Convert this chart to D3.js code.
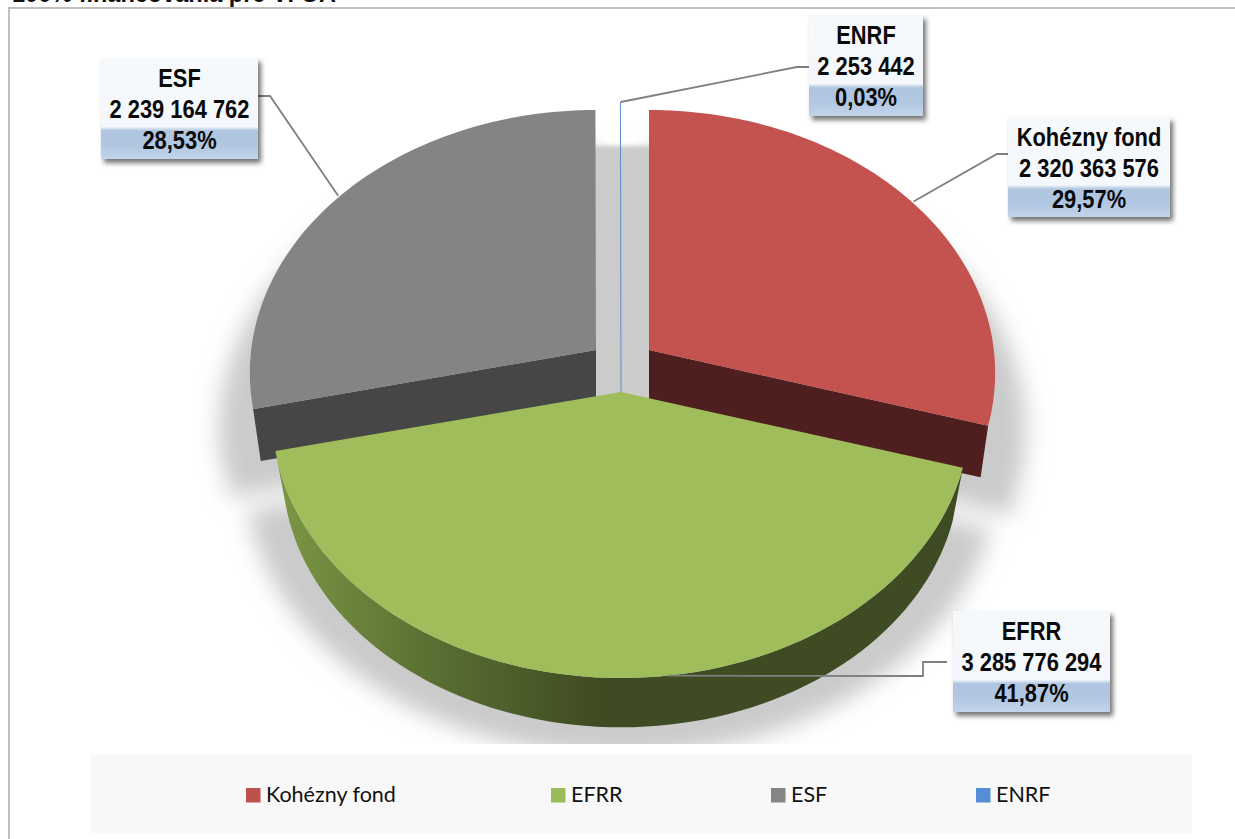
<!DOCTYPE html>
<html><head><meta charset="utf-8">
<script src="https://cdn.jsdelivr.net/npm/d3@7/dist/d3.min.js"></script>
<style>html,body{margin:0;padding:0;background:#fff}svg{display:block}</style>
</head><body><svg id="c" width="1235" height="839"></svg>
<script>
const titleText = "100% financovania pre VI OA";
const categories = ["Kohézny fond", "EFRR", "ESF", "ENRF"];
const values = [2320363576, 3285776294, 2239164762, 2253442];
const valueLabels = ["2 320 363 576", "3 285 776 294", "2 239 164 762", "2 253 442"];
const percentLabels = ["29,57%", "41,87%", "28,53%", "0,03%"];
const topColors = ["#c4524f", "#9fbd5a", "#848484", "#5b8fd0"];
const wallColors = ["#4f1e1e", "#3f4b22", "#464646", "#5b8fd0"];
const legendColors = ["#c0504d", "#9bbb59", "#858585", "#558ed5"];

const W = 1235, H = 839;
const svg = d3.select("#c");
const defs = svg.append("defs");

// perspective projection of the pie's unit circle
const A = 347.6, B = 261, K = -0.0875;
const project = (t, o, s = 1, sy = s, dy = 0) => {
  const u = Math.sin(t), v = -Math.cos(t), den = 1 + K * v;
  return [o[0] + s * A * u / den, o[1] + dy + sy * B * v / den];
};
const apex = [[649, 350], [621, 392], [596, 350], [621, 342]];
const widthScale = [0.992, 1, 0.992, 1];
const arcs = d3.pie().sort(null).value(d => d).startAngle(0).endAngle(2 * Math.PI)(values);
const line = d3.line();
const arcPts = (a, o, s, sy, dy) =>
  d3.range(0, 81).map(i => project(a.startAngle + (a.endAngle - a.startAngle) * i / 80, o, s, sy, dy));
const sector = (a, o, s = 1, sy = s, dy = 0) =>
  line([[o[0], o[1] + dy], ...arcPts(a, o, s, sy, dy)]) + "Z";

// frame and title
svg.append("text").attr("x", 12).attr("y", 2).attr("font-family", "Liberation Sans")
  .attr("font-weight", "bold").attr("font-size", 23.5).attr("fill", "#111").text(titleText);
svg.append("path").attr("d", `M9 ${H}V8H${W}`).attr("fill", "none").attr("stroke", "#bfbfbf").attr("stroke-width", 2);

// shadow
const mkBlur = (id, sd) => defs.append("filter").attr("id", id).attr("x", "-20%").attr("y", "-20%")
  .attr("width", "140%").attr("height", "140%").append("feGaussianBlur").attr("stdDeviation", sd);
mkBlur("blur", 11);
mkBlur("blurGap", 2);
defs.append("clipPath").attr("id", "shClip").append("rect").attr("x", 0).attr("y", 0).attr("width", W).attr("height", 744);
const shadowClip = svg.append("g").attr("clip-path", "url(#shClip)");
const shadow = shadowClip.append("g").attr("filter", "url(#blur)").attr("fill", "#cbcbcb");
arcs.slice(0, 3).forEach((a, i) => shadow.append("path").attr("d", sector(a, apex[i], 1.08, 1.08, 55)));
[0, 2].forEach(i => shadow.append("path").attr("d", sector(arcs[i], apex[i], 1.06, 1.06, 85)));
const redTop = project(0, apex[0], 1.08, 1.08, 55), esfTop = project(2 * Math.PI, apex[2], 1.08, 1.08, 55);
shadowClip.append("rect").attr("filter", "url(#blurGap)").attr("fill", "#cbcbcb")
  .attr("x", esfTop[0] - 6).attr("y", esfTop[1]).attr("width", redTop[0] - esfTop[0] + 12).attr("height", 320);

// 3D pie
const wallGrad = defs.append("linearGradient").attr("id", "wallG").attr("gradientUnits", "userSpaceOnUse")
  .attr("x1", 285).attr("x2", 600).attr("y1", 0).attr("y2", 0);
wallGrad.append("stop").attr("offset", 0).attr("stop-color", "#7a9544");
wallGrad.append("stop").attr("offset", 0.45).attr("stop-color", "#5a7033");
wallGrad.append("stop").attr("offset", 1).attr("stop-color", wallColors[1]);

const D = 55, WS = 0.97, WSY = 0.98;
const pie3d = svg.append("g");
// ENRF sliver (back)
const en = arcs[3];
pie3d.append("path").attr("d", line([project(en.startAngle, apex[3]), [apex[3][0], apex[3][1] + D]]))
  .attr("stroke", topColors[3]).attr("stroke-width", 1).attr("fill", "none");
// flat side faces of the exploded back slices
[[0, arcs[0].endAngle], [2, arcs[2].startAngle]].forEach(([i, t]) => {
  const o = apex[i];
  pie3d.append("path").attr("fill", wallColors[i]).attr("d", line([
    o, project(t, o, widthScale[i], 1), project(t, o, WS, WSY, D - 2), [o[0], o[1] + D]
  ]) + "Z");
});
[0, 2].forEach(i => pie3d.append("path").attr("d", sector(arcs[i], apex[i], widthScale[i], 1)).attr("fill", topColors[i]));
// front slice: outer wall then top
const g = arcs[1];
pie3d.append("path").attr("fill", "url(#wallG)")
  .attr("d", line([...arcPts(g, apex[1]), ...arcPts(g, apex[1], WS, WSY, D).reverse()]) + "Z");
pie3d.append("path").attr("d", sector(g, apex[1])).attr("fill", topColors[1]);

// leaders and labels
const boxes = [
  { x: 1008, y: 117, w: 162, h: 100, bend: [[997, 154], [1008, 154]] },
  { x: 953, y: 611, w: 157, h: 101, bend: [[923, 676], [923, 662], [947, 662]] },
  { x: 101, y: 58, w: 157, h: 101, bend: [[270, 96], [258, 96]] },
  { x: 809, y: 15, w: 114, h: 101, bend: [[797, 67], [809, 67]] }
];
const frontLeaderAngle = 173 * Math.PI / 180;
const mid = a => (a.startAngle + a.endAngle) / 2;
boxes.forEach((b, i) => {
  const start = i === 1 ? project(frontLeaderAngle, apex[1]) : project(mid(arcs[i]), apex[i]);
  svg.append("path").attr("d", line([start, ...b.bend])).attr("fill", "none").attr("stroke", "#7f7f7f").attr("stroke-width", 1.8);
});

const bg = defs.append("linearGradient").attr("id", "boxG").attr("x1", 0).attr("x2", 0).attr("y1", 0).attr("y2", 1);
[[0, "#f6f9fc"], [0.68, "#f4f7fb"], [0.72, "#afc5e0"], [0.86, "#b0c6e1"], [1, "#c3d5ea"]]
  .forEach(([o, c]) => bg.append("stop").attr("offset", o).attr("stop-color", c));
const ds = defs.append("filter").attr("id", "boxShadow").attr("x", "-10%").attr("y", "-10%").attr("width", "125%").attr("height", "130%");
ds.append("feDropShadow").attr("dx", 3).attr("dy", 4).attr("stdDeviation", 2.5).attr("flood-color", "#000").attr("flood-opacity", 0.55);

boxes.forEach((b, i) => {
  const gb = svg.append("g");
  gb.append("rect").attr("x", b.x).attr("y", b.y).attr("width", b.w).attr("height", b.h)
    .attr("fill", "url(#boxG)").attr("filter", "url(#boxShadow)");
  [categories[i], valueLabels[i], percentLabels[i]].forEach((s, j) => {
    const t = gb.append("text").attr("x", b.x + b.w / 2).attr("y", b.y + 29 + j * 31)
      .attr("text-anchor", "middle").attr("font-family", "Liberation Sans")
      .attr("font-weight", "bold").attr("font-size", 25).attr("fill", "#0a0a0a").text(s);
    const len = t.node().getComputedTextLength();
    t.attr("textLength", len * 0.875).attr("lengthAdjust", "spacingAndGlyphs");
  });
});

// legend
svg.append("rect").attr("x", 91).attr("y", 755).attr("width", 1101).attr("height", 78).attr("fill", "#f8f8f8");
const legendPos = [246, 551, 771, 976];
categories.forEach((c, i) => {
  svg.append("rect").attr("x", legendPos[i]).attr("y", 788).attr("width", 14.5).attr("height", 14.5).attr("fill", legendColors[i]);
  svg.append("text").attr("x", legendPos[i] + 20).attr("y", 802).attr("font-family", "Lato")
    .attr("font-size", 21.5).attr("fill", "#111").text(c);
});
</script></body></html>
